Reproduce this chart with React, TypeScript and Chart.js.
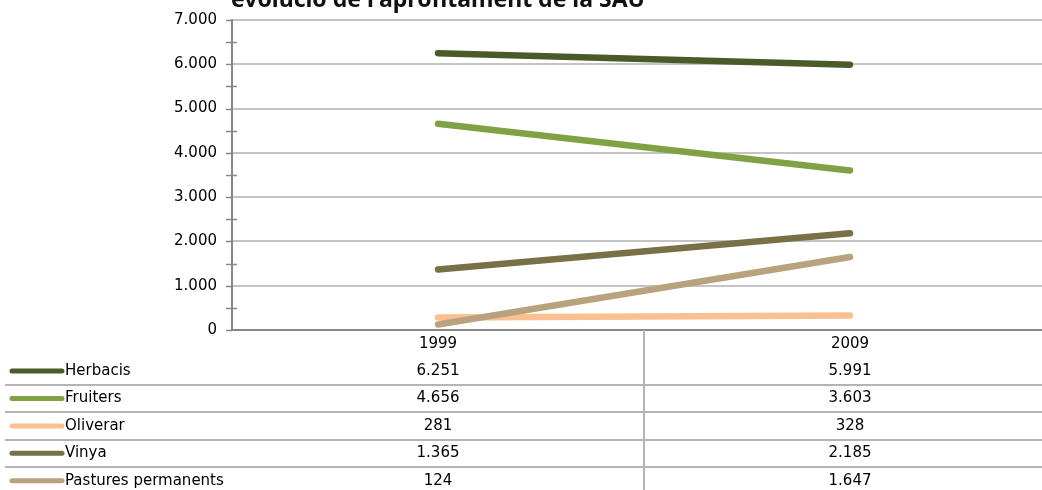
import React, { useEffect, useRef } from "react";
import { Chart, registerables } from "chart.js";

Chart.register(...registerables);

const categories = ["1999", "2009"];
const seriesNames = ["Herbacis", "Fruiters", "Oliverar", "Vinya", "Pastures permanents"];
const herbacis = [6251, 5991];
const fruiters = [4656, 3603];
const oliverar = [281, 328];
const vinya = [1365, 2185];
const pastures = [124, 1647];
const seriesColors = ["#4b5a29", "#80a244", "#fac090", "#787046", "#b9a37f"];
const titleText = "evolució de l'aprofitament de la SAU";

const allSeries = [herbacis, fruiters, oliverar, vinya, pastures];

const fmt = (v: number) => String(v).replace(/\B(?=(\d{3})+(?!\d))/g, ".");

const FONT = '"DejaVu Sans", sans-serif';

const tablePlugin = {
  id: "dataTable",
  afterDraw(chart: any) {
    const ctx = chart.ctx;
    const x = chart.scales.x;
    const y = chart.scales.y;
    const area = chart.chartArea;
    const W = chart.width;
    const top = area.bottom;
    const rowH = 27.4;
    ctx.save();
    // title
    ctx.font = 'bold 23px "Noto Sans", sans-serif';
    ctx.fillStyle = "#111";
    ctx.textAlign = "center";
    ctx.textBaseline = "alphabetic";
    ctx.fillText(titleText, x.getPixelForValue(0), 7);

    // y ticks crossing axis
    ctx.strokeStyle = "#888";
    ctx.lineWidth = 1.5;
    y.ticks.forEach((t: any) => {
      const py = Math.round(y.getPixelForValue(t.value)) + 0.5;
      ctx.beginPath();
      const major = t.value % 1000 === 0;
      ctx.moveTo(area.left - 6, py);
      ctx.lineTo(major ? area.left : area.left + 5, py);
      ctx.stroke();
    });

    // table lines
    ctx.strokeStyle = "#b4b4b4";
    ctx.lineWidth = 2;
    for (let i = 1; i < seriesNames.length; i++) {
      const ly = Math.round(top + rowH * (i + 1));
      ctx.beginPath();
      ctx.moveTo(5, ly);
      ctx.lineTo(W, ly);
      ctx.stroke();
    }
    // vertical dividers between categories
    for (let c = 1; c < categories.length; c++) {
      const dx = Math.round((x.getPixelForValue(c - 1) + x.getPixelForValue(c)) / 2);
      ctx.beginPath();
      ctx.moveTo(dx, top);
      ctx.lineTo(dx, chart.height);
      ctx.stroke();
    }
    ctx.font = "15px " + FONT;
    ctx.fillStyle = "#000";
    ctx.textBaseline = "middle";
    ctx.textAlign = "center";
    categories.forEach((c, ci) => {
      ctx.fillText(c, x.getPixelForValue(ci), top + rowH / 2);
    });
    seriesNames.forEach((name, si) => {
      const cy = top + rowH * (si + 1) + rowH / 2;
      ctx.strokeStyle = seriesColors[si];
      ctx.lineWidth = 5;
      ctx.lineCap = "round";
      ctx.beginPath();
      ctx.moveTo(12, cy);
      ctx.lineTo(62, cy);
      ctx.stroke();
      ctx.textAlign = "left";
      ctx.fillText(name, 65, cy);
      ctx.textAlign = "center";
      allSeries[si].forEach((v, ci) => {
        ctx.fillText(fmt(v), x.getPixelForValue(ci), cy);
      });
    });
    ctx.restore();
  },
};

export default function App() {
  const ref = useRef<HTMLCanvasElement>(null);
  useEffect(() => {
    const canvas = ref.current!;
    const chart = new Chart(canvas, {
      type: "line",
      data: {
        labels: categories,
        datasets: seriesNames.map((name, i) => ({
          label: name,
          data: allSeries[i],
          borderColor: seriesColors[i],
          backgroundColor: seriesColors[i],
          borderWidth: 6.5,
          borderCapStyle: "round",
          pointRadius: 0,
          tension: 0,
          order: seriesNames.length - 1 - i,
        })),
      },
      options: {
        animation: false,
        responsive: false,
        devicePixelRatio: 1,
        layout: { padding: { left: 0, right: 4, top: 20, bottom: 160 } },
        plugins: { legend: { display: false }, tooltip: { enabled: false }, title: { display: false } },
        scales: {
          x: {
            type: "category",
            offset: true,
            grid: { display: false, drawTicks: false },
            ticks: { display: false },
            border: { display: true, color: "#888", width: 2 },
            afterFit: (s: any) => { s.height = 0; s.paddingLeft = 0; s.paddingRight = 0; },
          },
          y: {
            min: 0,
            max: 7000,
            ticks: {
              stepSize: 500,
              autoSkip: false,
              padding: 15,
              color: "#000",
              font: { family: FONT, size: 15 },
              callback: (v: any) => (Number(v) % 1000 === 0 ? fmt(Number(v)) : ""),
            },
            grid: {
              drawTicks: false,
              lineWidth: 2,
              color: (c: any) => (c.tick && c.tick.value % 1000 === 0 && c.tick.value !== 0 ? "#c4c4c4" : "rgba(0,0,0,0)"),
            },
            border: { display: true, color: "#888", width: 2 },
            afterFit: (s: any) => { s.width = 232; s.paddingTop = 0; s.paddingBottom = 0; },
          },
        },
      },
      plugins: [tablePlugin],
    } as any);
    return () => chart.destroy();
  }, []);
  return (
    <div style={{ position: "fixed", left: 0, top: 0, width: 1042, height: 490, overflow: "hidden", background: "#fff" }}>
      <canvas ref={ref} width={1060} height={490} style={{ display: "block" }} />
    </div>
  );
}
